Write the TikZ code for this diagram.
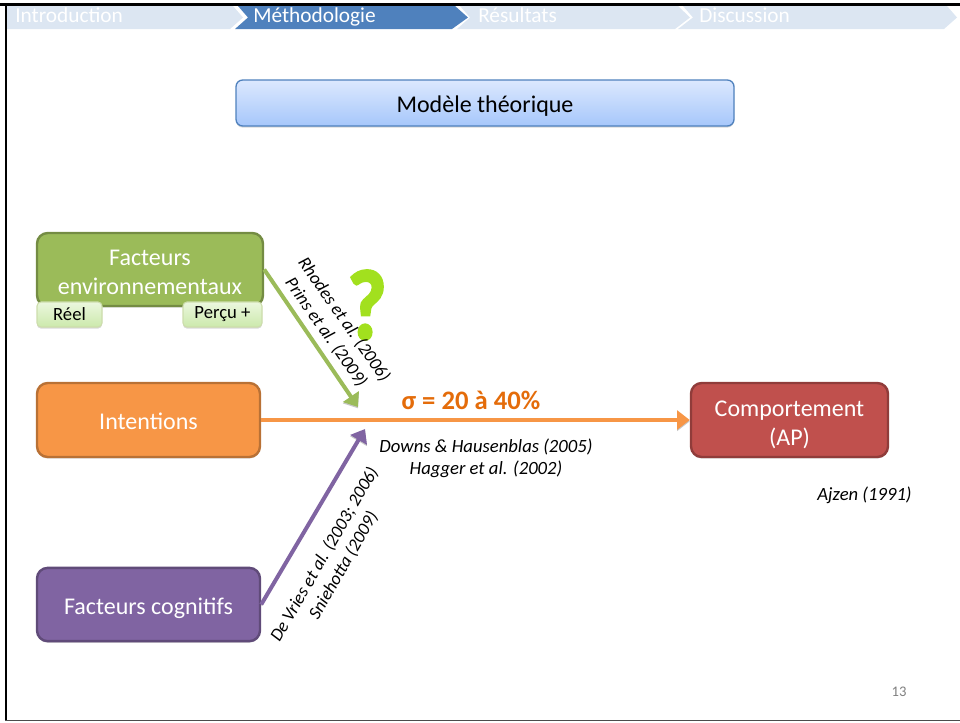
\documentclass[tikz,border=0pt]{standalone}
\usepackage{fontspec}
\setmainfont{Carlito}
\newfontfamily\qmarkfont[BoldFeatures={FakeBold=3}]{Carlito}
\usepackage{tikz}
\usetikzlibrary{arrows, arrows.meta, positioning, calc, shadows}
\definecolor{headlight}{HTML}{DCE6F2}
\definecolor{headblue}{HTML}{4F81BD}
\definecolor{titletop}{HTML}{DCE8FE}
\definecolor{titlebottom}{HTML}{A6C7FB}
\definecolor{tagtop}{HTML}{EBF7DE}
\definecolor{tagbottom}{HTML}{CCE9AC}
\definecolor{envgreen}{HTML}{9BBB59}
\definecolor{limegreen}{HTML}{A2E01E}
\definecolor{intentorange}{HTML}{F79646}
\definecolor{behavred}{HTML}{C0504D}
\definecolor{cogpurple}{HTML}{8064A2}
\definecolor{sigmaorange}{HTML}{E46C0A}
\tikzset{
    softshadow/.style={drop shadow={shadow xshift=0pt, shadow yshift=-1.2pt, opacity=0.3}},
    factorbox/.style={draw=#1!75!black, line width=1.8pt, fill=#1, rounded corners=8pt, align=center, text=white, font=\fontsize{18}{21.8}\selectfont, softshadow},
    tagbox/.style={draw=envgreen!50!white, line width=0.8pt, top color=tagtop, bottom color=tagbottom, rounded corners=3pt, minimum height=18.75pt, font=\fontsize{14}{16}\selectfont, softshadow},
    headtext/.style={anchor=base west, text=white, font=\fontsize{16}{18}\selectfont, inner sep=0pt},
    citetext/.style={align=center, font=\itshape\fontsize{#1}{16.5}\selectfont, inner sep=0pt},
    linkarrow/.style={draw=#1, line width=3pt, -{Triangle[length=9.5pt, width=14pt]},
        preaction={draw=black!22, transform canvas={yshift=-1pt}}}
}
\begin{document}
\begin{tikzpicture}[x=0.75pt, y=-0.75pt]
    \useasboundingbox (0,0) rectangle (960,722);

    % Slide frame
    \fill[black] (0,3) rectangle (960,6);
    \fill[black] (5,3) rectangle (7,720);
    \fill[black!70] (5,719.5) rectangle (960,721);

    % Header chevrons
    \fill[headlight] (7,6) -- (233,6) -- (243,17.5) -- (230,29) -- (7,29) -- cycle;
    \fill[headblue] (238,6) -- (455,6) -- (468,17.5) -- (452,29) -- (235,29) -- (248,17.5) -- cycle;
    \fill[headlight] (460,6) -- (678,6) -- (690,17.5) -- (675,29) -- (457,29) -- (470,17.5) -- cycle;
    \fill[headlight] (683,6) -- (947,6) -- (957,17.5) -- (944,29) -- (678,29) -- (693,17.5) -- cycle;
    \node[headtext] (intro) at (15,22.5) {Introduction};
    \node[headtext] (methodo) at (253,22.5) {Méthodologie};
    \node[headtext] (results) at (478,22.5) {Résultats};
    \node[headtext] (discuss) at (699,22.5) {Discussion};

    % Title box
    \node[draw=headblue, line width=1pt, top color=titletop, bottom color=titlebottom, rounded corners=5pt, minimum width=373.5pt, minimum height=34.5pt, text depth=0pt, text height=13.5pt, font=\fontsize{18}{21}\selectfont, softshadow] (title)
    at (485,103) {Modèle théorique};

    % Question mark
    \node[text=limegreen, font=\qmarkfont\bfseries\fontsize{74}{74}\selectfont, inner sep=0pt, xscale=0.85] (qmark) at (367,305) {?};

    % Factor boxes
    \node[factorbox=envgreen, minimum width=169.5pt, minimum height=54.75pt, text height=37.4pt] (envir)
    at (150,269.5) {Facteurs \\ environnementaux};
    \node[factorbox=intentorange, minimum width=167.25pt, minimum height=55.5pt, text height=14pt] (intentions)
    at (148.5,420) {Intentions};
    \node[factorbox=cogpurple, minimum width=167.25pt, minimum height=55pt, text depth=0pt, text height=14.6pt] (cognitive)
    at (148.5,604.5) {Facteurs cognitifs};
    \node[factorbox=behavred, minimum width=147.75pt, minimum height=55.5pt, text height=40.4pt] (behaviour)
    at (789.5,420) {Comportement \\ (AP)};

    % Tags on the environment box
    \node[tagbox, minimum width=48.75pt] (real) at (69.5,314.5) {Réel};
    \node[tagbox, minimum width=59.25pt] (perceived) at (222.5,314.5) {Perçu +};

    % Free ends of the two slanted arrows
    \coordinate (greentip) at (358,407);
    \coordinate (purpletip) at (365,429);

    % Arrows
    \draw[linkarrow=envgreen] (envir.east) -- (greentip);
    \draw[linkarrow=cogpurple] (cognitive.east) -- (purpletip);
    \draw[linkarrow=intentorange] (intentions.east) -- (behaviour.west);

    % Labels
    \node[text=sigmaorange, font=\bfseries\fontsize{20}{24}\selectfont, inner sep=0pt] (sigma) at (471,400) {σ = 20 à 40\%};
    \node[citetext=13.5, rotate=-55] (citeenv) at (335,326) {Rhodes et al. (2006) \\ Prins et al. (2009)};
    \node[citetext=14] (citeint) at (486,458) {Downs \& Hausenblas (2005) \\ Hagger et al. (2002)};
    \node[citetext=13.5, rotate=60] (citecog) at (334,560) {De Vries et al. (2003; 2006) \\ Sniehotta (2009)};
    \node[citetext=14] (ajzen) at (864.5,495) {Ajzen (1991)};
    \node[text=black!50, font=\fontsize{11}{13}\selectfont, inner sep=0pt] (pagenum) at (899,692) {13};
\end{tikzpicture}
\end{document}
